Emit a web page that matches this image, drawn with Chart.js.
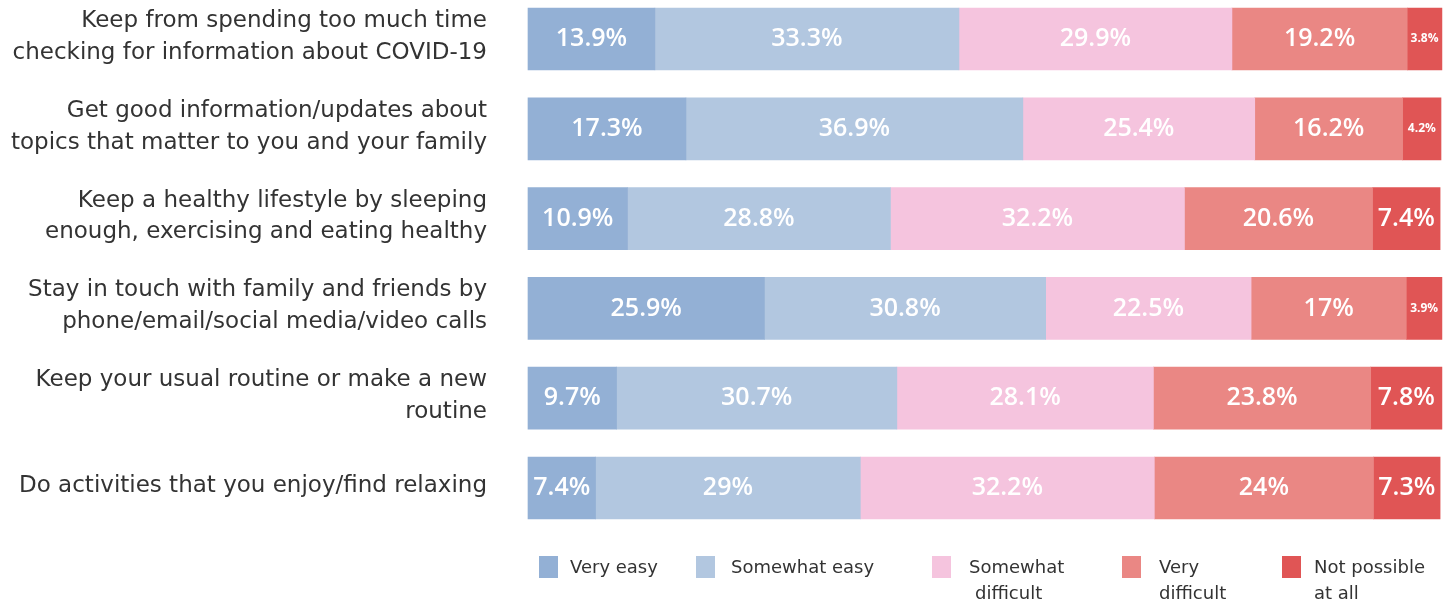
<!DOCTYPE html>
<html>
<head>
<meta charset="utf-8">
<script src="https://cdn.jsdelivr.net/npm/chart.js@4"></script>
<style>
  html, body { margin: 0; padding: 0; background: #fff; }
  #wrap { width: 1451px; height: 603px; position: relative; }
</style>
</head>
<body>
<div id="wrap"><canvas id="chart"></canvas></div>
<script>
const categories = [
  ['Keep from spending too much time', 'checking for information about COVID-19'],
  ['Get good information/updates about', 'topics that matter to you and your family'],
  ['Keep a healthy lifestyle by sleeping', 'enough, exercising and eating healthy'],
  ['Stay in touch with family and friends by', 'phone/email/social media/video calls'],
  ['Keep your usual routine or make a new', 'routine'],
  'Do activities that you enjoy/find relaxing'
];
const seriesNames = ['Very easy', 'Somewhat easy', 'Somewhat difficult', 'Very difficult', 'Not possible at all'];
const legendLines = [['Very easy'], ['Somewhat easy'], ['Somewhat', 'difficult'], ['Very', 'difficult'], ['Not possible', 'at all']];
const veryEasy = [13.9, 17.3, 10.9, 25.9, 9.7, 7.4];
const somewhatEasy = [33.3, 36.9, 28.8, 30.8, 30.7, 29];
const somewhatDifficult = [29.9, 25.4, 32.2, 22.5, 28.1, 32.2];
const veryDifficult = [19.2, 16.2, 20.6, 17, 23.8, 24];
const notPossible = [3.8, 4.2, 7.4, 3.9, 7.8, 7.3];
const colors = ['#93b0d5', '#b2c7e0', '#f5c4de', '#ea8784', '#e05555'];

const seriesValues = [veryEasy, somewhatEasy, somewhatDifficult, veryDifficult, notPossible];
const LABEL_FONT = '"DejaVu Sans", "Open Sans", sans-serif';
const VALUE_FONT = '"Open Sans", Lato, sans-serif';

// white percentage labels inside each segment
const valueLabels = {
  id: 'valueLabels',
  afterDatasetsDraw(chart) {
    const ctx = chart.ctx;
    ctx.save();
    ctx.fillStyle = '#ffffff';
    ctx.textAlign = 'center';
    ctx.textBaseline = 'middle';
    chart.data.datasets.forEach((ds, i) => {
      chart.getDatasetMeta(i).data.forEach((bar, j) => {
        const v = ds.data[j];
        const small = v < 5;
        ctx.font = (small ? '700 12px ' : '600 25px ') + VALUE_FONT;
        const cx = (bar.x + bar.base) / 2;
        ctx.fillText(v + '%', cx, bar.y);
      });
    });
    ctx.restore();
  }
};

// legend under the bars, with wrapped labels
const bottomLegend = {
  id: 'bottomLegend',
  afterDraw(chart) {
    const ctx = chart.ctx;
    const boxX = [539, 696, 932, 1122, 1282];
    const textX = [570, 731, 969, 1159, 1314];
    const indent = [0, 0, 6, 0, 0];
    const top = 556;
    ctx.save();
    ctx.font = '18px ' + LABEL_FONT;
    ctx.textBaseline = 'middle';
    ctx.textAlign = 'left';
    legendLines.forEach((lines, i) => {
      ctx.fillStyle = colors[i];
      ctx.fillRect(boxX[i], top, 19, 22);
      ctx.fillStyle = '#333333';
      lines.forEach((t, k) => ctx.fillText(t, textX[i] + (k ? indent[i] : 0), top + 12 + k * 26));
    });
    ctx.restore();
  }
};

new Chart(document.getElementById('chart'), {
  type: 'bar',
  data: {
    labels: categories,
    datasets: seriesNames.map((name, i) => ({
      label: name,
      data: seriesValues[i],
      backgroundColor: colors[i],
      borderWidth: 0,
      barThickness: 62,
      clip: false
    }))
  },
  options: {
    indexAxis: 'y',
    responsive: true,
    maintainAspectRatio: false,
    animation: false,
    layout: { padding: { top: 39, bottom: 115, right: 10, left: 0 } },
    plugins: {
      legend: { display: false },
      tooltip: { enabled: false }
    },
    scales: {
      x: {
        stacked: true,
        min: 0,
        max: 100,
        display: false
      },
      y: {
        stacked: true,
        offset: false,
        grid: { display: false },
        border: { display: false },
        ticks: {
          color: '#333333',
          padding: 33,
          labelOffset: -2,
          font: { family: LABEL_FONT, size: 23, lineHeight: 1.38 }
        },
        afterFit(scale) {
          scale.width = 528;
          scale.paddingTop = 0;
          scale.paddingBottom = 0;
        }
      }
    }
  },
  plugins: [valueLabels, bottomLegend]
});
</script>
</body>
</html>
